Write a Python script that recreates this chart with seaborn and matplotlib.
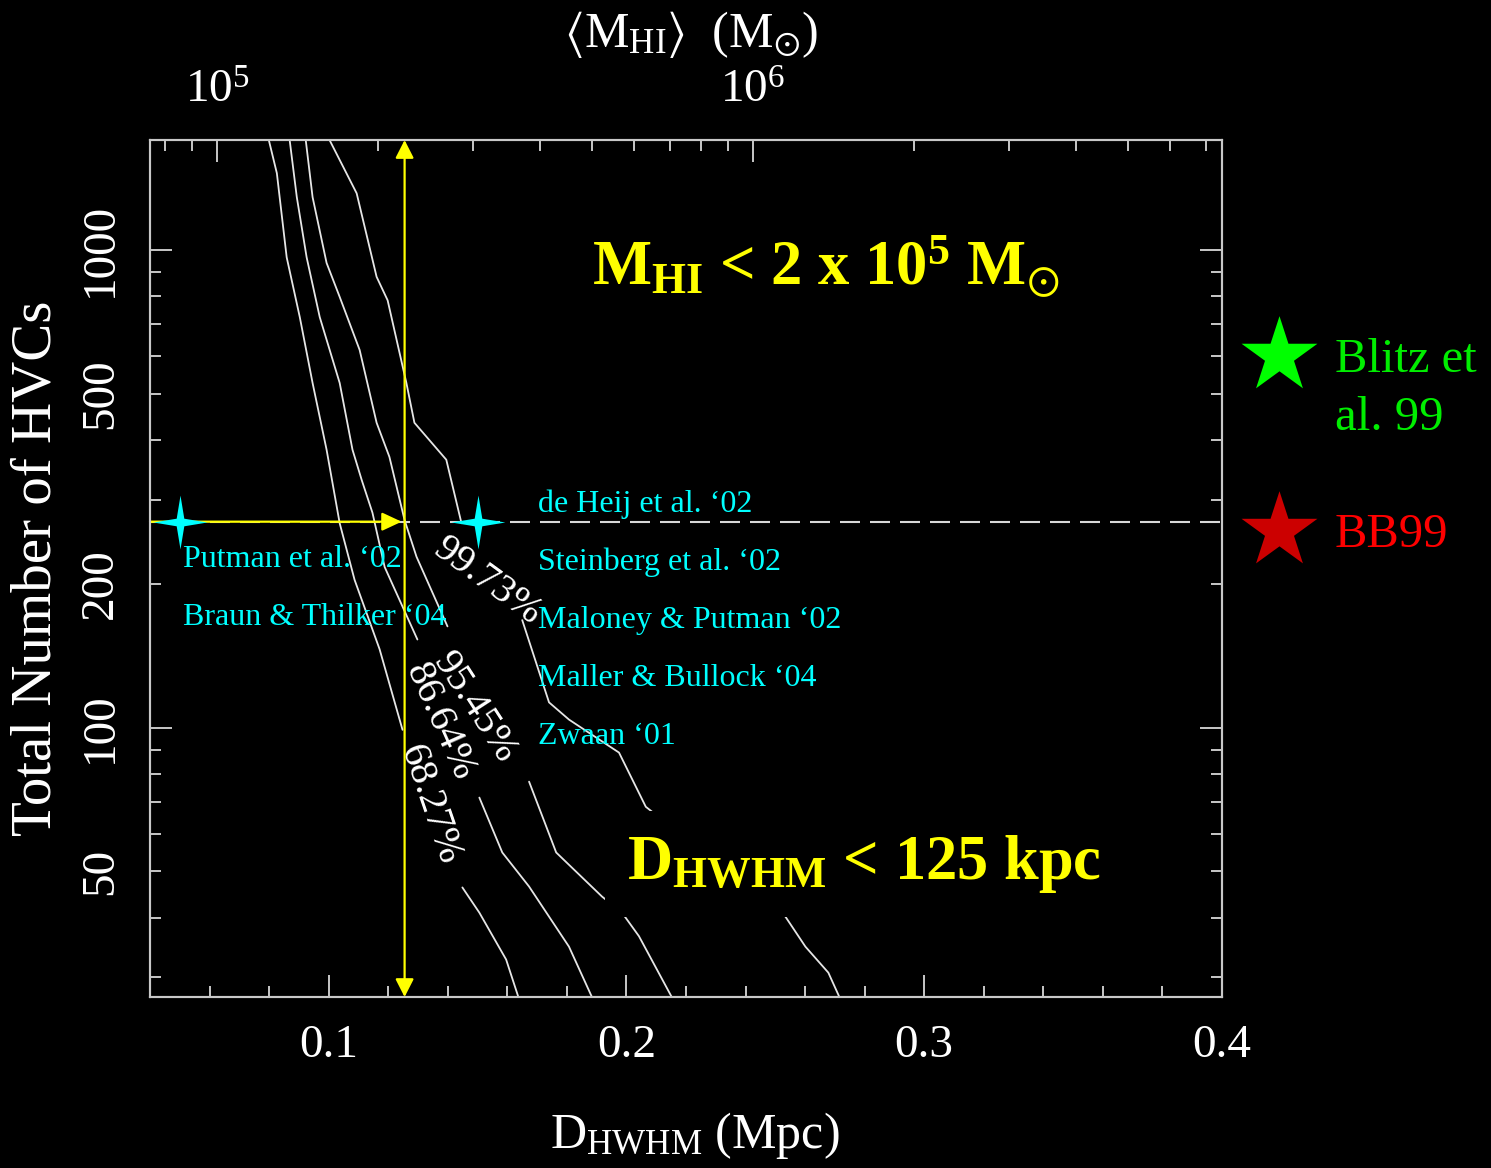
import numpy as np
import pandas as pd
import seaborn as sns
import matplotlib.pyplot as plt
from matplotlib.path import Path
from matplotlib.ticker import (FixedLocator, LogLocator, MultipleLocator,
                               FuncFormatter, NullFormatter)

# --- values ---
# confidence contours: D_HWHM (Mpc) vs total number of HVCs,
# each level split in two where its label sits on the line
c68_upper_d = [0.0799, 0.0826, 0.0859, 0.0903, 0.0946, 0.0993, 0.1037, 0.1087, 0.1171, 0.1248]
c68_upper_n = [1700, 1449, 966, 724, 527, 382, 268, 204, 146, 99]
c68_lower_d = [0.1449, 0.1506, 0.1596, 0.1637]
c68_lower_n = [46.3, 41.0, 32.7, 27.3]

c86_upper_d = [0.0869, 0.0893, 0.0926, 0.0970, 0.1037, 0.1080, 0.1111, 0.1147, 0.1188, 0.1298]
c86_upper_n = [1700, 1291, 966, 724, 527, 382, 330, 282, 217, 153]
c86_lower_d = [0.1506, 0.1583, 0.1673, 0.1807, 0.1884]
c86_lower_n = [71.4, 54.8, 46.5, 34.8, 27.3]

c95_upper_d = [0.0923, 0.0946, 0.0993, 0.1037, 0.1104, 0.1161, 0.1204, 0.1255, 0.1295, 0.1399]
c95_upper_n = [1700, 1291, 940, 798, 618, 435, 369, 272, 228, 163]
c95_lower_d = [0.1673, 0.1764, 0.1918, 0.1985, 0.2042, 0.2152]
c95_lower_n = [77.1, 54.8, 44.3, 41.0, 36.6, 27.3]

c99_upper_d = [0.1003, 0.1094, 0.1161, 0.1198, 0.1261, 0.1288, 0.1395, 0.1446]
c99_upper_n = [1700, 1315, 879, 785, 527, 435, 364, 268]
c99_lower_d = [0.1650, 0.1740, 0.1807, 0.1975, 0.2065, 0.2534, 0.2601, 0.2678, 0.2715]
c99_lower_n = [168, 113, 104, 88.7, 68.3, 40.2, 34.8, 30.7, 27.3]

level_labels = ['68.27%', '86.64%', '95.45%', '99.73%']
level_label_d = [0.1338, 0.1372, 0.1489, 0.1533]
level_label_n = [69, 103, 110, 202]
level_label_rot = [-71, -66, -57, -36]

# observed number of HVCs and the derived distance limit
n_observed = 270
d_limit = 0.1255
survey_d = [0.05, 0.15]          # cyan markers on the dashed line

# model predictions (stars to the right of the frame)
model_names = ['Blitz et\nal. 99', 'BB99']
model_n = [600, 258]
model_colors = ['#00ff00', '#cc0000']
model_text_colors = ['#00ee00', '#ff0000']

survey_left = ['Putman et al. \u201802', 'Braun & Thilker \u201804']
survey_right = ['de Heij et al. \u201802', 'Steinberg et al. \u201802',
                'Maloney & Putman \u201802', 'Maller & Bullock \u201804', 'Zwaan \u201801']

d_ticks = [0.1, 0.2, 0.3, 0.4]
d_tick_labels = ['0.1', '0.2', '0.3', '0.4']
n_labelled = [50, 100, 200, 500, 1000]
d_range = (0.04, 0.40)
n_range = (27.3, 1700)
m_range = (7.5e4, 7.5e6)

# --- assemble contour table ---
parts = [('68', 'a', c68_upper_d, c68_upper_n), ('68', 'b', c68_lower_d, c68_lower_n),
         ('86', 'a', c86_upper_d, c86_upper_n), ('86', 'b', c86_lower_d, c86_lower_n),
         ('95', 'a', c95_upper_d, c95_upper_n), ('95', 'b', c95_lower_d, c95_lower_n),
         ('99', 'a', c99_upper_d, c99_upper_n), ('99', 'b', c99_lower_d, c99_lower_n)]
frames = []
for lev, seg, d, n in parts:
    frames.append(pd.DataFrame({'D': d, 'N': n, 'part': lev + seg}))
contours = pd.concat(frames, ignore_index=True)

# 4-point sparkle marker
star_verts = []
for k in range(4):
    a = np.pi / 2 * k
    star_verts.append((np.cos(a), np.sin(a)))
    b = a + np.pi / 4
    star_verts.append((0.2 * np.cos(b), 0.2 * np.sin(b)))
star_verts.append(star_verts[0])
sparkle = Path(star_verts, [Path.MOVETO] + [Path.LINETO] * 7 + [Path.CLOSEPOLY])

# --- style ---
frame = '#c8c8c8'
sns.set_style("ticks")
plt.rcParams['font.family'] = ['Liberation Serif', 'DejaVu Serif']
plt.rcParams.update({
    'mathtext.fontset': 'custom',
    'mathtext.rm': 'Liberation Serif',
    'mathtext.it': 'Liberation Serif:italic',
    'mathtext.bf': 'Liberation Serif:bold',
    'mathtext.default': 'regular',
    'text.color': 'white',
    'axes.facecolor': 'black',
    'figure.facecolor': 'black',
    'axes.edgecolor': frame,
    'axes.linewidth': 1.5,
    'axes.labelcolor': 'white',
})

fig = plt.figure(figsize=(14.91, 11.68), dpi=100)
ax = fig.add_axes([0.1006, 0.1464, 0.719, 0.7337])
ax.set_yscale('log')

sns.lineplot(data=contours, x='D', y='N', units='part', estimator=None, sort=False,
             color='#e6e6e6', linewidth=1.3, legend=False, ax=ax, zorder=2)

for txt, d, n, rot in zip(level_labels, level_label_d, level_label_n, level_label_rot):
    ax.text(d, n, txt, rotation=rot, ha='center', va='center', fontsize=29,
            color='white', zorder=3)

ax.axhline(n_observed, color='#d8d8d8', linestyle=(0, (9.6, 4.8)), linewidth=1.5, zorder=2)

# yellow arrows
ax.annotate('', xy=(d_limit, n_range[1]), xytext=(d_limit, n_range[0]),
            arrowprops=dict(arrowstyle='<|-|>,head_length=0.55,head_width=0.28',
                            color='yellow', lw=1.6, shrinkA=0, shrinkB=0,
                            mutation_scale=20), zorder=4)
ax.annotate('', xy=(d_limit - 0.001, n_observed), xytext=(d_range[0], n_observed),
            arrowprops=dict(arrowstyle='-|>,head_length=0.6,head_width=0.28',
                            color='yellow', lw=1.6, shrinkA=0, shrinkB=0,
                            mutation_scale=20), zorder=4)

sns.scatterplot(x=survey_d, y=[n_observed] * len(survey_d), marker=sparkle, s=1500,
                color='cyan', linewidth=0, ax=ax, zorder=6, legend=False)

# model stars outside the frame
sns.scatterplot(x=[0.4193] * len(model_n), y=model_n, hue=model_names,
                palette=model_colors, marker='*', s=3300, linewidth=0,
                ax=ax, zorder=6, legend=False, clip_on=False)
ax.text(1.1054, 0.7293, 'Blitz et', transform=ax.transAxes, fontsize=35,
        color=model_text_colors[0], ha='left', va='baseline')
ax.text(1.1054, 0.6616, 'al. 99', transform=ax.transAxes, fontsize=35,
        color=model_text_colors[0], ha='left', va='baseline')
ax.text(1.1054, 0.5251, model_names[1], transform=ax.transAxes, fontsize=35,
        color=model_text_colors[1], ha='left', va='baseline')

# reference labels in cyan
for i, name in enumerate(survey_left):
    ax.text(0.0308, 0.5018 - i * 0.0677, name, transform=ax.transAxes,
            fontsize=23, color='cyan', ha='left', va='baseline', zorder=5)
for i, name in enumerate(survey_right):
    ax.text(0.3619, 0.5659 - i * 0.0677, name, transform=ax.transAxes,
            fontsize=23, color='cyan', ha='left', va='baseline', zorder=5)

# big yellow statements
ax.text(0.4123, 0.8308, r'M$_{\mathbf{HI}}$ < 2 x 10$^{\mathbf{5}}$ M$_{\odot}$',
        transform=ax.transAxes, fontsize=45, fontweight='bold', color='yellow',
        ha='left', va='baseline', zorder=7)
ax.text(0.445, 0.1377, r'D$_{\mathbf{HWHM}}$ < 125 kpc',
        transform=ax.transAxes, fontsize=45, fontweight='bold', color='yellow',
        ha='left', va='baseline', zorder=7,
        bbox=dict(boxstyle='square,pad=0.35', facecolor='black', edgecolor='none'))

# --- axes ---
ax.set_xlim(*d_range)
ax.set_ylim(*n_range)
ax.xaxis.set_major_locator(FixedLocator(d_ticks))
ax.set_xticklabels(d_tick_labels)
ax.xaxis.set_minor_locator(MultipleLocator(0.02))
ax.yaxis.set_major_locator(LogLocator(base=10, subs=(1.0,)))
ax.yaxis.set_minor_locator(LogLocator(base=10, subs=np.arange(2, 10), numticks=30))
ax.yaxis.set_major_formatter(FuncFormatter(lambda v, p: f'{v:g}'))
ax.yaxis.set_minor_formatter(
    FuncFormatter(lambda v, p: f'{v:g}' if int(round(v)) in n_labelled else ''))

ax.tick_params(which='both', direction='in', top=False, right=True, left=True, bottom=True,
               colors=frame, labelcolor='white', labelsize=34, width=1.4)
ax.tick_params(which='major', length=16)
ax.tick_params(which='minor', length=8)
ax.tick_params(axis='x', which='both', pad=20)
ax.tick_params(axis='y', which='both', pad=20, labelrotation=90)

ax.set_xlabel(r'D$_{\rm HWHM}$ (Mpc)', fontsize=36, color='white')
ax.xaxis.set_label_coords(0.508, -0.132)
ax.set_ylabel('Total Number of HVCs', fontsize=41, color='white')
ax.yaxis.set_label_coords(-0.082, 0.5)

ax2 = ax.twiny()
ax2.set_xscale('log')
ax2.set_xlim(*m_range)
ax2.xaxis.set_major_locator(LogLocator(base=10, subs=(1.0,)))
ax2.xaxis.set_minor_locator(LogLocator(base=10, subs=np.arange(2, 10), numticks=30))
ax2.xaxis.set_minor_formatter(NullFormatter())
ax2.tick_params(which='both', direction='in', top=True, bottom=False, labeltop=True,
                labelbottom=False, colors=frame, labelcolor='white', labelsize=34,
                width=1.4, pad=20)
ax2.tick_params(which='major', length=16)
ax2.tick_params(which='minor', length=8)
for sp in ax2.spines.values():
    sp.set_color(frame)
ax2.set_xlabel(r'$\langle$M$_{\rm HI}\rangle$  (M$_{\odot}$)', fontsize=36, color='white')
ax2.xaxis.set_label_coords(0.505, 1.108)

for lab in ax.get_yticklabels(which='both'):
    lab.set_va('center')

fig.savefig('out.png', dpi=100, facecolor='black')
